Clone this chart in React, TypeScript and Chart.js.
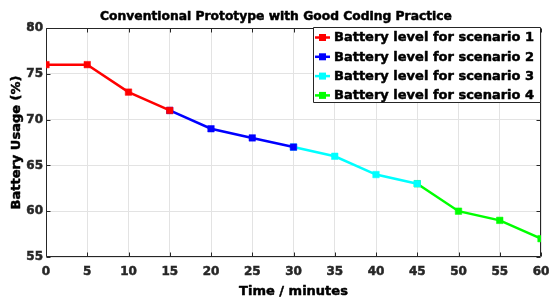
import React, { useEffect, useRef } from "react";
import { Chart, registerables } from "chart.js";

Chart.register(...registerables);

const TITLE = "Conventional Prototype with Good Coding Practice";
const X_TITLE = "Time / minutes";
const Y_TITLE = "Battery Usage (%)";

const seriesNames = [
  "Battery level for scenario 1",
  "Battery level for scenario 2",
  "Battery level for scenario 3",
  "Battery level for scenario 4",
];
const seriesColors = ["#ff0000", "#0000ff", "#00ffff", "#00ff00"];

const times1 = [0, 5, 10, 15];
const level1 = [76, 76, 73, 71];
const times2 = [15, 20, 25, 30];
const level2 = [71, 69, 68, 67];
const times3 = [30, 35, 40, 45];
const level3 = [67, 66, 64, 63];
const times4 = [45, 50, 55, 60];
const level4 = [63, 60, 59, 57];

const allTimes = [times1, times2, times3, times4];
const allLevels = [level1, level2, level3, level4];

const FONT = "'DejaVu Sans', 'Liberation Sans', sans-serif";
const AXIS_COLOR = "#262626";
const STROKE_W = 0.5;

function heavyText(ctx: any, text: string, x: number, y: number, color: string) {
  ctx.fillStyle = color;
  ctx.strokeStyle = color;
  ctx.lineWidth = STROKE_W;
  ctx.lineJoin = "round";
  ctx.strokeText(text, x, y);
  ctx.fillText(text, x, y);
}

const boxPlugin = {
  id: "boxTicks",
  beforeDatasetsDraw(chart: any) {
    const { ctx, chartArea } = chart;
    const { left, right, top, bottom } = chartArea;
    const xs = chart.scales.x;
    const ys = chart.scales.y;
    ctx.save();
    ctx.strokeStyle = AXIS_COLOR;
    ctx.lineWidth = 1;
    ctx.beginPath();
    const L = Math.round(left) + 0.5;
    const R = Math.round(right) - 0.5;
    const T = Math.round(top) + 0.5;
    const B = Math.round(bottom) - 0.5;
    ctx.moveTo(L, T);
    ctx.lineTo(R, T);
    ctx.lineTo(R, B);
    ctx.lineTo(L, B);
    ctx.closePath();
    const tl = 4;
    xs.ticks.forEach((t: any) => {
      const px = Math.round(xs.getPixelForValue(t.value)) + 0.5;
      ctx.moveTo(px, B);
      ctx.lineTo(px, B - tl);
      ctx.moveTo(px, T);
      ctx.lineTo(px, T + tl);
    });
    ys.ticks.forEach((t: any) => {
      const py = Math.round(ys.getPixelForValue(t.value)) + 0.5;
      ctx.moveTo(L, py);
      ctx.lineTo(L + tl, py);
      ctx.moveTo(R, py);
      ctx.lineTo(R - tl, py);
    });
    ctx.stroke();
    ctx.restore();
  },
  afterDraw(chart: any) {
    const { ctx, chartArea } = chart;
    ctx.save();
    // title
    ctx.font = `bold 12.3px ${FONT}`;
    ctx.textAlign = "center";
    ctx.textBaseline = "alphabetic";
    heavyText(ctx, TITLE, 276, 19.5, "#000");

    // axis titles
    ctx.font = `bold 13px ${FONT}`;
    ctx.textBaseline = "middle";
    heavyText(ctx, X_TITLE, (chartArea.left + chartArea.right) / 2, 292, "#000");
    ctx.save();
    ctx.translate(16.5, (chartArea.top + chartArea.bottom) / 2);
    ctx.rotate(-Math.PI / 2);
    heavyText(ctx, Y_TITLE, 0, 0, "#000");
    ctx.restore();

    // legend
    const bx = 313.5, by = 27.5, bw = 227, bh = 75;
    ctx.fillStyle = "#fff";
    ctx.fillRect(bx, by, bw, bh);
    ctx.strokeStyle = AXIS_COLOR;
    ctx.lineWidth = 1;
    ctx.strokeRect(bx, by, bw, bh);
    const rows = [37.5, 56.8, 76.1, 95.4];
    seriesNames.forEach((name, i) => {
      const y = rows[i];
      ctx.strokeStyle = seriesColors[i];
      ctx.lineWidth = 2.5;
      ctx.beginPath();
      ctx.moveTo(315, y);
      ctx.lineTo(330, y);
      ctx.stroke();
      ctx.fillStyle = seriesColors[i];
      ctx.fillRect(322.5 - 3.5, y - 3.5, 7, 7);
      ctx.font = `bold 13px ${FONT}`;
      ctx.textAlign = "left";
      ctx.textBaseline = "middle";
      heavyText(ctx, name, 334, y + 0.5, "#000");
    });
    ctx.restore();
  },
};

export default function App() {
  const ref = useRef<HTMLCanvasElement>(null);
  useEffect(() => {
    if (!ref.current) return;
    const datasets = seriesNames.map((name, i) => ({
      label: name,
      data: allTimes[i].map((t, j) => ({ x: t, y: allLevels[i][j] })),
      borderColor: seriesColors[i],
      backgroundColor: seriesColors[i],
      borderWidth: 2.5,
      pointStyle: "rect" as const,
      pointRadius: 4.6,
      pointBorderWidth: 0.5,
      tension: 0,
    }));
    const tickFont = { family: FONT, size: 12, weight: "bold" as const };
    const chart = new Chart(ref.current, {
      type: "line",
      data: { datasets },
      options: {
        animation: false,
        responsive: false,
        devicePixelRatio: 1,
        layout: { padding: { top: 28, right: 11, left: 0, bottom: 0 } },
        plugins: {
          legend: { display: false },
          title: { display: false },
          tooltip: { enabled: false },
        },
        scales: {
          x: {
            type: "linear",
            min: 0,
            max: 60,
            afterFit: (s: any) => {
              s.height = 42;
              s.paddingLeft = 0;
              s.paddingRight = 0;
            },
            ticks: {
              stepSize: 5,
              color: AXIS_COLOR,
              font: tickFont,
              padding: 8,
              maxRotation: 0,
              textStrokeColor: AXIS_COLOR,
              textStrokeWidth: STROKE_W,
            },
            grid: { color: "#e3e3e3", drawTicks: false, lineWidth: 1 },
            border: { display: false },
            title: { display: false },
          },
          y: {
            type: "linear",
            min: 55,
            max: 80,
            afterFit: (s: any) => {
              s.width = 46;
              s.paddingTop = 0;
              s.paddingBottom = 0;
            },
            ticks: {
              stepSize: 5,
              color: AXIS_COLOR,
              font: tickFont,
              padding: 3,
              textStrokeColor: AXIS_COLOR,
              textStrokeWidth: STROKE_W,
            },
            grid: { color: "#e3e3e3", drawTicks: false, lineWidth: 1 },
            border: { display: false },
            title: { display: false },
          },
        },
      },
      plugins: [boxPlugin],
    });
    return () => chart.destroy();
  }, []);
  return (
    <div style={{ position: "absolute", left: 0, top: 0, width: 552, height: 299 }}>
      <canvas ref={ref} width={552} height={299} style={{ width: 552, height: 299 }} />
    </div>
  );
}
